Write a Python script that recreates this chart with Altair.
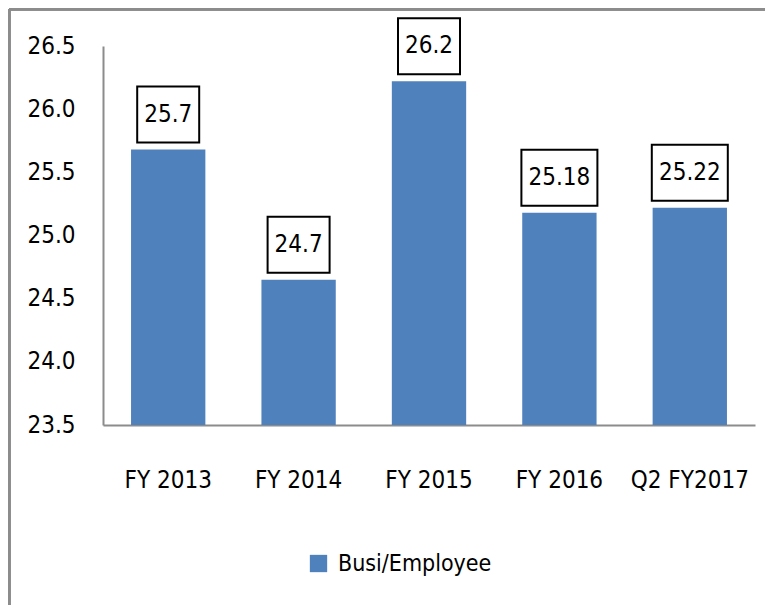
import altair as alt
import pandas as pd

categories = ["FY 2013", "FY 2014", "FY 2015", "FY 2016", "Q2 FY2017"]
values = [25.68, 24.65, 26.22, 25.18, 25.22]
labels = ["25.7", "24.7", "26.2", "25.18", "25.22"]
series = ["Busi/Employee"] * 5

df = pd.DataFrame({"cat": categories, "value": values, "label": labels, "series": series})

FONT = "DejaVu Sans Condensed, Liberation Sans, sans-serif"
BLUE = "#4f81bd"

x = alt.X("cat:N", sort=categories, title=None,
          scale=alt.Scale(paddingInner=0.43, paddingOuter=0.215),
          axis=alt.Axis(labelAngle=0, labelFontSize=24, labelFont=FONT, labelColor="black",
                        labelPadding=43, ticks=False, domainColor="#8c8c8c", domainWidth=2))

y = alt.Y("value:Q", title=None,
          scale=alt.Scale(domain=[23.5, 26.5], zero=False, nice=False),
          axis=alt.Axis(values=[23.5, 24.0, 24.5, 25.0, 25.5, 26.0, 26.5], format=".1f",
                        labelFontSize=24, labelFont=FONT, labelColor="black", labelPadding=28,
                        ticks=False, grid=False, domainColor="#8c8c8c", domainWidth=2))

bars = alt.Chart(df).mark_bar(color=BLUE, clip=True).encode(
    x=x, y=y,
    color=alt.Color("series:N", scale=alt.Scale(range=[BLUE]), title=None,
                    legend=alt.Legend(orient="none", legendX=204, legendY=506, symbolType="square",
                                      symbolSize=300, symbolStrokeWidth=0, labelFontSize=23,
                                      labelFont=FONT, labelColor="black", labelLimit=400,
                                      labelOffset=8))
)

# white covers hiding the plot-area outline on the top and right edges
cover_top = alt.Chart(df).mark_rule(color="white", strokeWidth=5, clip=False).encode(
    x=alt.value(3), x2=alt.value(658), y=alt.value(0))
cover_right = alt.Chart(df).mark_rule(color="white", strokeWidth=5, clip=False).encode(
    x=alt.value(652), y=alt.value(-3), y2=alt.value(376))

boxes = alt.Chart(df).transform_calculate(
    boxw="length(datum.label) * 14 + 6"
).mark_bar(fill="white", stroke="black", strokeWidth=2, yOffset=-63, y2Offset=-7).encode(
    x=alt.X("cat:N", sort=categories),
    y=alt.Y("value:Q"),
    y2=alt.Y2("value"),
    size=alt.Size("boxw:Q", scale=None, legend=None),
)

texts = alt.Chart(df).mark_text(font=FONT, fontSize=24, color="black", dy=-35, baseline="middle").encode(
    x=alt.X("cat:N", sort=categories),
    y=alt.Y("value:Q"),
    text="label:N",
)

frame_top = alt.Chart(df).mark_rule(color="#8c8c8c", strokeWidth=3, clip=False).encode(
    x=alt.value(-94), x2=alt.value(662), y=alt.value(-37))
frame_left = alt.Chart(df).mark_rule(color="#8c8c8c", strokeWidth=3, clip=False).encode(
    x=alt.value(-94), y=alt.value(-37), y2=alt.value(560))

chart = alt.layer(bars, cover_top, cover_right, boxes, texts, frame_top, frame_left).properties(
    width=652, height=379,
    padding={"left": 95, "top": 38, "right": 10, "bottom": 180},
    autosize=alt.AutoSizeParams(type="none"),
    background="white",
).configure_view(stroke="transparent", strokeOpacity=0, strokeWidth=0)

chart.save("out.html", embed_options={"renderer": "svg", "actions": False})
